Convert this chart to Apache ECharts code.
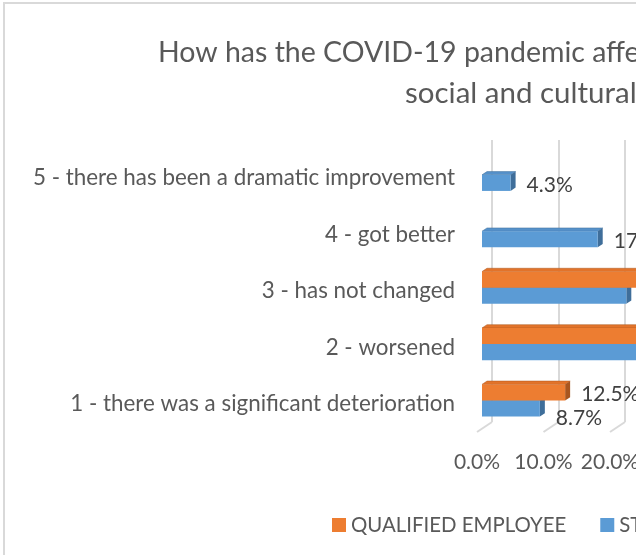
<!DOCTYPE html>
<html>
<head>
<meta charset="utf-8">
<script src="https://cdn.jsdelivr.net/npm/echarts@6/dist/echarts.min.js"></script>
<style>
  html, body { margin: 0; padding: 0; overflow: hidden; background: #fff; width: 636px; height: 555px; }
  #chart { position: absolute; left: 0; top: 0; width: 1000px; height: 555px; }
  #frame { position: absolute; left: 3px; top: 2px; width: 1200px; height: 800px; border: 2px solid #d9d9d9; pointer-events: none; }
</style>
</head>
<body>
<div id="chart"></div>
<div id="frame"></div>
<script>
const categories = [
  '1 - there was a significant deterioration',
  '2 - worsened',
  '3 - has not changed',
  '4 - got better',
  '5 - there has been a dramatic improvement'
];
const qualifiedEmployee = [12.5, 50.0, 37.5, null, null];
const student = [8.7, 47.8, 21.7, 17.4, 4.3];
const xTicks = [0, 10, 20, 30, 40, 50, 60];
const titleLine1 = 'How has the COVID-19 pandemic affected your participation in';
const titleLine2 = 'social and cultural life?';

const FONT = 'Lato';
const DEPTH_X = 15, DEPTH_Y = -10;

function fmt(v) { return v.toFixed(1) + '%'; }

function barRenderer(slot, front, top, side) {
  return function (params, api) {
    const val = api.value(0);
    const cat = api.value(1);
    if (val == null || isNaN(val)) return;
    const p0 = api.coord([0, cat]);
    const p1 = api.coord([val, cat]);
    const band = api.size([0, 1])[1];
    const h = band * 0.285;
    const ox = DEPTH_X / 3, oy = DEPTH_Y / 3;
    const dx = DEPTH_X / 3, dy = DEPTH_Y / 3;
    const x0 = p0[0] + ox, x1 = p1[0] + ox;
    const yc = p0[1] + oy;
    const yTop = slot === 0 ? yc : yc - h;
    const yBot = yTop + h;
    let labelShift = 0;
    if (slot === 0 && qualifiedEmployee[cat] != null) labelShift = h / 2;
    return {
      type: 'group',
      children: [
        { type: 'polygon', shape: { points: [[x0, yTop], [x1, yTop], [x1 + dx, yTop + dy], [x0 + dx, yTop + dy]] },
          style: { fill: top, stroke: side, lineWidth: 0.5 } },
        { type: 'polygon', shape: { points: [[x1, yTop], [x1 + dx, yTop + dy], [x1 + dx, yBot + dy], [x1, yBot]] },
          style: { fill: side } },
        { type: 'rect', shape: { x: x0, y: yTop, width: x1 - x0, height: h }, style: { fill: front } },
        { type: 'text', x: x1 + 16, y: (yTop + yBot) / 2 + labelShift + 2,
          style: { text: fmt(val), fill: '#404040', font: '21px ' + FONT, textAlign: 'left', textVerticalAlign: 'middle' } }
      ]
    };
  };
}

const chart = echarts.init(document.getElementById('chart'), null, { renderer: 'canvas' });
chart.setOption({
  animation: false,
  backgroundColor: '#fff',
  title: [
    { text: titleLine1, left: 153, top: 33, textStyle: { fontFamily: FONT, fontSize: 28.5, fontWeight: 'normal', color: '#595959' } },
    { text: titleLine2, left: 400, top: 73, textStyle: { fontFamily: FONT, fontSize: 29.5, fontWeight: 'normal', color: '#595959' } }
  ],
  legend: {
    data: ['QUALIFIED EMPLOYEE', 'STUDENT'],
    left: 327, top: 510, icon: 'rect', itemWidth: 14, itemHeight: 14, itemGap: 34,
    textStyle: { fontFamily: FONT, fontSize: 20.4, color: '#595959' }
  },
  grid: [
    { left: 477, top: 150, width: 399, height: 282 },
    { left: 492, top: 140, width: 399, height: 282 }
  ],
  xAxis: [
    { type: 'value', gridIndex: 0, min: 0, max: 60, interval: 10,
      axisLine: { show: false }, axisTick: { show: false }, splitLine: { show: false },
      axisLabel: { formatter: v => fmt(v), margin: 20, fontFamily: FONT, fontSize: 21, color: '#595959' } },
    { type: 'value', gridIndex: 1, min: 0, max: 60, interval: 10,
      axisLine: { show: false }, axisTick: { show: false }, axisLabel: { show: false },
      splitLine: { show: true, lineStyle: { color: '#d9d9d9', width: 2 } } }
  ],
  yAxis: [
    { type: 'category', gridIndex: 0, data: categories,
      axisLine: { show: false }, axisTick: { show: false },
      axisLabel: { margin: 22, fontFamily: FONT, fontSize: 22.4, color: '#595959' } },
    { type: 'category', gridIndex: 1, data: categories, show: false }
  ],
  series: [
    { type: 'custom', name: 'floor', xAxisIndex: 0, yAxisIndex: 0, silent: true,
      data: xTicks.map(v => [v, 0]),
      renderItem: function (params, api) {
        const p = api.coord([api.value(0), 0]);
        const cs = params.coordSys;
        const yb = cs.y + cs.height;
        return { type: 'line', shape: { x1: p[0], y1: yb, x2: p[0] + DEPTH_X, y2: yb + DEPTH_Y },
          style: { stroke: '#d9d9d9', lineWidth: 2 } };
      } },
    { type: 'custom', name: 'STUDENT', xAxisIndex: 0, yAxisIndex: 0, color: '#5B9BD5',
      itemStyle: { color: '#5B9BD5' },
      data: student.map((v, i) => [v, i]),
      renderItem: barRenderer(0, '#5B9BD5', '#5591CA', '#3F6E9A') },
    { type: 'custom', name: 'QUALIFIED EMPLOYEE', xAxisIndex: 0, yAxisIndex: 0, color: '#ED7D31',
      itemStyle: { color: '#ED7D31' },
      data: qualifiedEmployee.map((v, i) => [v, i]),
      renderItem: barRenderer(1, '#ED7D31', '#E2732A', '#A9561F') }
  ]
});
</script>
</body>
</html>
